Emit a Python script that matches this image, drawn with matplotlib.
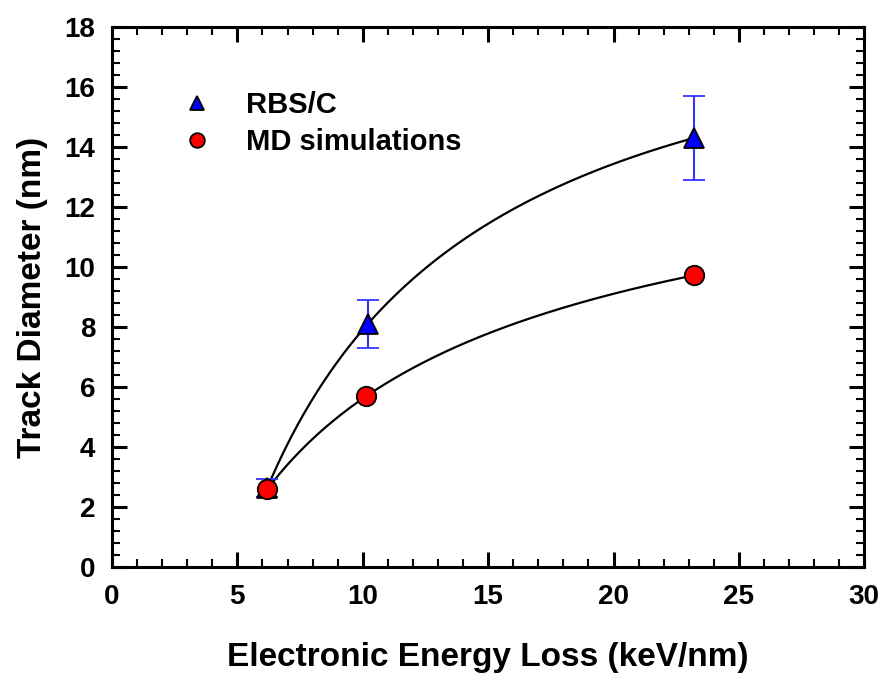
import numpy as np
import matplotlib
matplotlib.use('Agg')
from matplotlib import pyplot as plt
from matplotlib.ticker import MultipleLocator


# =============================================================================
# Data
# =============================================================================
rbs_x = [6.2, 10.2, 23.2]
rbs_y = [2.65, 8.1, 14.3]
rbs_err = [0.3, 0.8, 1.4]

md_x = [6.2, 10.15, 23.2]
md_y = [2.6, 5.7, 9.72]
md_err = [0.1, 0.1, 0.1]


# =============================================================================
# Plot parameters
# =============================================================================
matplotlib.rcParams['font.family'] = ['Liberation Sans', 'DejaVu Sans']
matplotlib.rcParams['font.weight'] = 'bold'
matplotlib.rcParams['axes.linewidth'] = 2.2
fontsize = 20


# Smooth line through the points (quadratic in log x)
def smooth_curve(x, y):
    coef = np.polyfit(np.log(x), y, 2)
    xs = np.linspace(min(x), max(x), 200)
    return xs, np.polyval(coef, np.log(xs))


# =============================================================================
# Plot
# =============================================================================
fig = plt.figure(figsize=(8.83, 6.75), dpi=100)
ax = fig.add_axes([0.1268, 0.16, 0.852, 0.80])

xs, ys = smooth_curve(rbs_x, rbs_y)
ax.plot(xs, ys, color='black', linewidth=1.6, zorder=2)
xs, ys = smooth_curve(md_x, md_y)
ax.plot(xs, ys, color='black', linewidth=1.6, zorder=2)

ax.errorbar(rbs_x, rbs_y, yerr=rbs_err, fmt='^', color='#0000ff',
    markersize=14, markeredgecolor='black', markeredgewidth=1.3,
    ecolor='#3333ff', elinewidth=1.5, capsize=8, capthick=1.5,
    label='RBS/C', zorder=3)
ax.errorbar(md_x, md_y, yerr=md_err, fmt='o', color='#ff0000',
    markersize=14, markeredgecolor='black', markeredgewidth=1.3,
    ecolor='#ff3333', elinewidth=1.2, capsize=6, capthick=1.2,
    label='MD simulations', zorder=4)

# x-axis parameters
ax.set_xlim(0, 30)
ax.xaxis.set_major_locator(MultipleLocator(5))
ax.xaxis.set_minor_locator(MultipleLocator(1))
ax.set_xlabel('Electronic Energy Loss (keV/nm)', fontsize=24,
    fontweight='bold', labelpad=23)

# y-axis parameters
ax.set_ylim(0, 18)
ax.yaxis.set_major_locator(MultipleLocator(2))
ax.yaxis.set_minor_locator(MultipleLocator(0.4))
ax.set_ylabel('Track Diameter (nm)', fontsize=24, fontweight='bold',
    labelpad=12)

ax.tick_params(which='both', direction='in', top=True, right=True,
    labelsize=fontsize)
ax.tick_params(which='major', length=11, width=2.2, pad=12)
ax.tick_params(which='minor', length=6, width=1.5)
for lab in ax.get_xticklabels() + ax.get_yticklabels():
    lab.set_fontweight('bold')

# Legend
handles, labels = ax.get_legend_handles_labels()
handles = [h[0] for h in handles]
leg = ax.legend(handles, labels, loc='upper left', frameon=False,
    bbox_to_anchor=(0.04, 0.93), fontsize=21, handletextpad=0.65,
    labelspacing=0.3, markerscale=0.75)
for t in leg.get_texts():
    t.set_fontweight('bold')

fig.savefig('out.png', dpi=100)
plt.close()
